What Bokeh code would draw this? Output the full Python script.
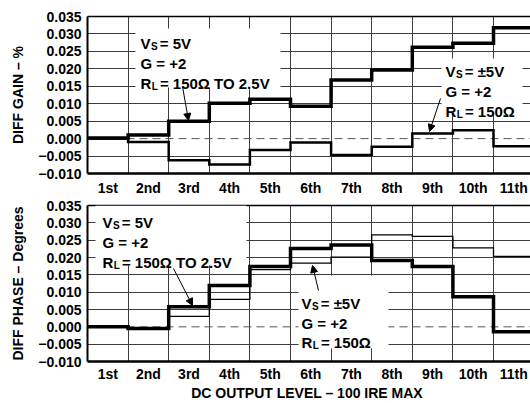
from bokeh.plotting import figure
from bokeh.models import (Range1d, FixedTicker, LinearAxis, Span, BoxAnnotation,
                          Label, Arrow, NormalHead)
from bokeh.layouts import column
from bokeh.embed import file_html
from bokeh.resources import INLINE

# ---------------- data ----------------
levels = ["1st", "2nd", "3rd", "4th", "5th", "6th", "7th", "8th", "9th", "10th", "11th"]

gain_5v = [0.0002, 0.0010, 0.0050, 0.0101, 0.0113, 0.0093, 0.0168, 0.0197, 0.0262, 0.0273, 0.0318]
gain_pm5v = [0.0000, -0.0010, -0.0062, -0.0074, -0.0033, -0.0011, -0.0047, -0.0023, 0.0015, 0.0024, -0.0022]

phase_5v = [0.0000, -0.0005, 0.0058, 0.0119, 0.0174, 0.0226, 0.0236, 0.0191, 0.0174, 0.0087, -0.0014]
phase_pm5v = [0.0000, -0.0005, 0.0030, 0.0079, 0.0165, 0.0184, 0.0201, 0.0265, 0.0261, 0.0228, 0.0203]

y_ticks = [-0.010, -0.005, 0.000, 0.005, 0.010, 0.015, 0.020, 0.025, 0.030, 0.035]
y_tick_labels = ["\u22120.010", "\u22120.005", "0.000", "0.005", "0.010", "0.015",
                 "0.020", "0.025", "0.030", "0.035"]

FONT = "Liberation Sans"
W = 530
LEFT = 87
CELL = 40.6
X_END = (W - LEFT) / CELL


def make_panel(height, b_top, b_bottom, ylabel, s_thick, s_thin, w_thin, xlabel=None):
    p = figure(width=W, height=height, x_range=Range1d(0, X_END),
               y_range=Range1d(y_ticks[0], y_ticks[-1]),
               output_backend="svg", toolbar_location=None,
               min_border_left=LEFT, min_border_right=0,
               min_border_top=b_top, min_border_bottom=b_bottom)
    p.outline_line_color = None
    p.background_fill_color = "white"

    n = len(levels)
    # x axis: labels centred in each cell
    p.xaxis.ticker = FixedTicker(ticks=[i + 0.5 for i in range(n)])
    p.xaxis.major_label_overrides = {i + 0.5: lab for i, lab in enumerate(levels)}
    p.xaxis.major_tick_line_color = None
    p.xaxis.minor_tick_line_color = None
    p.xaxis.major_tick_out = 0
    p.xaxis.major_tick_in = 0
    p.xaxis.axis_line_width = 2.5
    p.xaxis.axis_line_color = "black"
    p.xaxis.major_label_text_font = FONT
    p.xaxis.major_label_text_font_style = "bold"
    p.xaxis.major_label_text_font_size = "14px"
    p.xaxis.major_label_text_color = "black"
    p.xaxis.major_label_standoff = 6 if xlabel is None else 4
    if xlabel:
        p.xaxis.axis_label = xlabel
        p.xaxis.axis_label_text_font = FONT
        p.xaxis.axis_label_text_font_style = "bold"
        p.xaxis.axis_label_text_font_size = "14px"
        p.xaxis.axis_label_text_color = "black"
        p.xaxis.axis_label_standoff = 0

    # y axis
    p.yaxis.ticker = FixedTicker(ticks=y_ticks)
    p.yaxis.major_label_overrides = {t: lab for t, lab in zip(y_ticks, y_tick_labels)}
    p.yaxis.major_tick_line_color = None
    p.yaxis.minor_tick_line_color = None
    p.yaxis.major_tick_out = 0
    p.yaxis.major_tick_in = 0
    p.yaxis.major_label_standoff = 6
    p.yaxis.axis_line_width = 2
    p.yaxis.axis_line_color = "black"
    p.yaxis.major_label_text_font = FONT
    p.yaxis.major_label_text_font_style = "bold"
    p.yaxis.major_label_text_font_size = "14px"
    p.yaxis.major_label_text_color = "black"
    p.yaxis.axis_label = ylabel
    p.yaxis.axis_label_text_font = FONT
    p.yaxis.axis_label_text_font_style = "bold"
    p.yaxis.axis_label_text_font_size = "14px"
    p.yaxis.axis_label_text_color = "black"
    p.yaxis.axis_label_standoff = 9

    # top border (plain line)
    top = LinearAxis(ticker=FixedTicker(ticks=[]), major_tick_line_color=None,
                     minor_tick_line_color=None, major_tick_out=0, major_tick_in=0,
                     axis_line_width=1.7, axis_line_color="black")
    p.add_layout(top, "above")

    # grid
    p.xgrid.ticker = FixedTicker(ticks=list(range(1, n)))
    p.ygrid.ticker = FixedTicker(ticks=[t for t in y_ticks[1:-1] if t != 0.0])
    for g in (p.xgrid, p.ygrid):
        g.grid_line_color = "#3c3c3c"
        g.grid_line_width = 1
        g.grid_line_alpha = 1

    p.add_layout(Span(location=0.0, dimension="width", line_color="#555555",
                      line_width=1, line_dash="8 5", level="underlay"))

    edges = list(range(n + 1))
    p.step(edges, s_thin + [s_thin[-1]], mode="after", line_color="black",
           line_width=w_thin, line_join="miter")
    p.step(edges, s_thick + [s_thick[-1]], mode="after", line_color="black",
           line_width=3.5, line_join="miter")
    return p


def add_note(p, ypix, box, x0, baselines, lines, arrow):
    """box=(x_left, x_right, y_top, y_bottom) in page px; ypix converts page y to data."""
    xd = lambda px: (px - LEFT) / CELL
    l, r, t, b = box
    p.add_layout(BoxAnnotation(left=xd(l), right=xd(r), top=ypix(t), bottom=ypix(b),
                               fill_color="white", fill_alpha=1, line_color=None))
    widths = {"V": 10.0, "R": 10.8, "G": 11.7}
    subw = {"S": 6.7, "L": 6.1}
    for (main, sub, rest), by in zip(lines, baselines):
        common = dict(x=xd(x0), y=ypix(by), text_font=FONT, text_font_style="bold",
                      text_color="black", text_baseline="alphabetic")
        if sub:
            p.add_layout(Label(text=main, text_font_size="15px", **common))
            wm = widths[main]
            p.add_layout(Label(text=sub, text_font_size="10px", x_offset=wm + 0.5,
                               y_offset=-3, **common))
            p.add_layout(Label(text=rest, text_font_size="15px",
                               x_offset=wm + subw[sub] + 2.5, **common))
        else:
            p.add_layout(Label(text=main + rest, text_font_size="15px", **common))
    (ax0, ay0), (ax1, ay1) = arrow
    p.add_layout(Arrow(end=NormalHead(size=7, fill_color="black", line_color="black",
                                      line_width=1),
                       x_start=xd(ax0), y_start=ypix(ay0), x_end=xd(ax1), y_end=ypix(ay1),
                       line_color="black", line_width=1))


# ---------------- top panel: differential gain ----------------
top = make_panel(199, 16, 26, "DIFF GAIN \u2013 %", gain_5v, gain_pm5v, 2.5)
ytop = lambda py: 0.035 - (py - 16) / 157 * 0.045
add_note(top, ytop, (135, 280, 28, 87), 140, [43, 63, 83],
         [("V", "S", "= 5V"), ("G", "", " = +2"), ("R", "L", "= 150\u03a9 TO 2.5V")],
         ((182, 86), (188, 120)))
add_note(top, ytop, (441, 522, 58, 113), 445, [71, 91, 111],
         [("V", "S", "= \u00b15V"), ("G", "", " = +2"), ("R", "L", "= 150\u03a9")],
         ((440, 98), (429, 131)))

# ---------------- bottom panel: differential phase ----------------
bot = make_panel(204, 6, 42, "DIFF PHASE \u2013 Degrees", phase_5v, phase_pm5v, 1.3,
                 xlabel="DC  OUTPUT LEVEL \u2013 100 IRE MAX")
ybot = lambda py: 0.035 - (py - 205) / 156 * 0.045
add_note(bot, ybot, (95, 246, 205, 265), 102, [222, 242, 262],
         [("V", "S", "= 5V"), ("G", "", " = +2"), ("R", "L", "= 150\u03a9 TO 2.5V")],
         ((173, 268), (192, 305)))
add_note(bot, ybot, (298, 388, 275, 348), 301, [303, 323, 342],
         [("V", "S", "= \u00b15V"), ("G", "", " = +2"), ("R", "L", "= 150\u03a9")],
         ((318, 290), (312, 265)))

layout = column(top, bot, spacing=0)
open("out.html", "w").write(file_html(layout, INLINE))
